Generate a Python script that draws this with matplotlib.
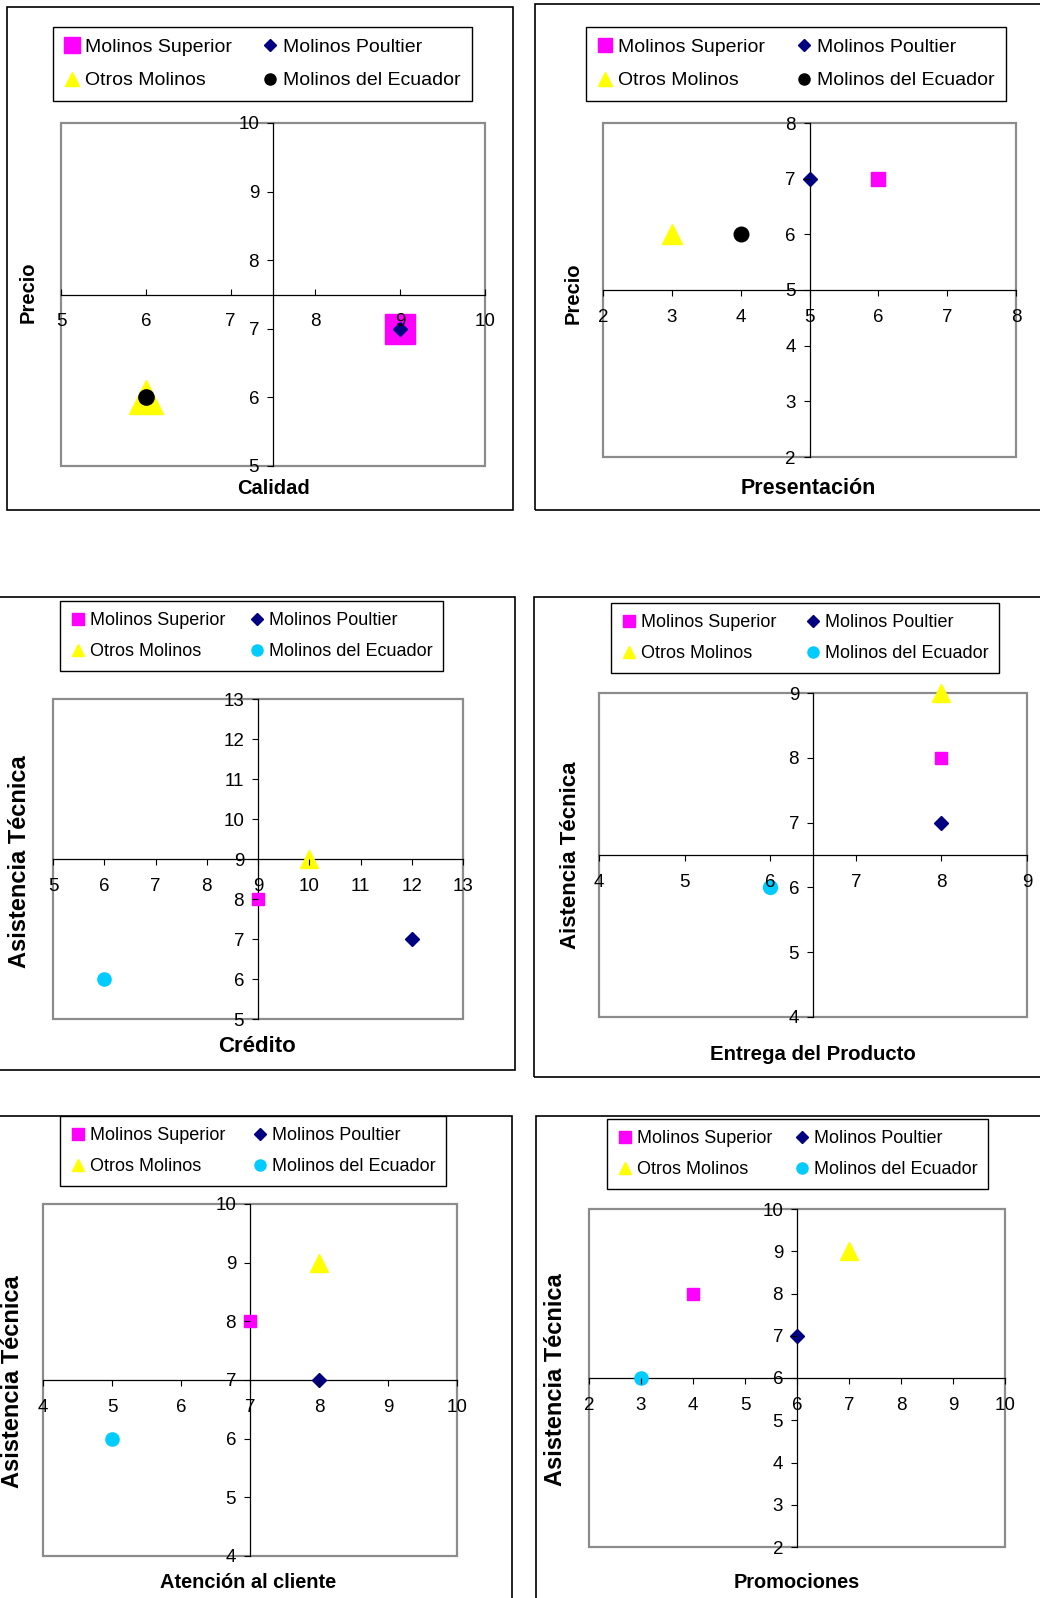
import matplotlib
matplotlib.use("Agg")
import matplotlib.pyplot as plt
from matplotlib.patches import Rectangle
from matplotlib.lines import Line2D

plt.rcParams['font.family'] = ['Liberation Sans', 'DejaVu Sans']

W, H = 1040, 1598

series = ['Molinos Superior', 'Molinos Poultier', 'Otros Molinos', 'Molinos del Ecuador']
colors = ['#FF00FF', '#000080', '#FFFF00', '#00CCFF']
markers = ['s', 'D', '^', 'o']

# values per chart, in the order of `series`
calidad = [9, 9, 6, 6]
precio_cal = [7, 7, 6, 6]
presentacion = [6, 5, 3, 4]
precio_pres = [7, 7, 6, 6]
credito = [9, 12, 10, 6]
asist_cred = [8, 7, 9, 6]
entrega = [8, 8, 8, 6]
asist_ent = [8, 7, 9, 6]
atencion = [7, 8, 8, 5]
asist_aten = [8, 7, 9, 6]
promociones = [4, 6, 7, 3]
asist_prom = [8, 7, 9, 6]

# axis ranges and crossing point of each chart
ranges = [(5, 10), (2, 8), (5, 13), (4, 9), (4, 10), (2, 10)]
crosses = [7.5, 5, 9, 6.5, 7, 6]


def frac(x0, y0, x1, y1):
    return [x0 / W, 1 - y1 / H, (x1 - x0) / W, (y1 - y0) / H]


panels = [
    dict(x=calidad, y=precio_cal, xl='Calidad', yl='Precio', ecu='black',
         frame=(7, 7, 513, 510), leg=(53, 27, 472, 102), plot=(61, 123, 485, 466),
         xlpos=(273, 489), ylpos=(28, 292), xfs=14.5, yfs=14.5, lfs=14, xdir='in',
         ms=[21, 7, 25, 11], lms=[12, 6, 9.5, 8]),
    dict(x=presentacion, y=precio_pres, xl='Presentación', yl='Precio', ecu='black',
         frame=(535, 4, 1045, 510), leg=(586, 27, 1006, 102), plot=(603, 123, 1016, 457),
         xlpos=(808, 489), ylpos=(573, 293), xfs=15.5, yfs=14.5, lfs=14, xdir='out',
         ms=[10, 7.5, 15, 10.5], lms=[9.5, 6, 9.5, 8]),
    dict(x=credito, y=asist_cred, xl='Crédito', yl='Asistencia Técnica', ecu='#00CCFF',
         frame=(-5, 597, 515, 1070), leg=(60, 601, 443, 675), plot=(53, 699, 463, 1019),
         xlpos=(257, 1047), ylpos=(20, 862), xfs=16, yfs=17, lfs=13, xdir='out',
         ms=[9, 7, 13, 9.5], lms=[9, 6, 9, 8]),
    dict(x=entrega, y=asist_ent, xl='Entrega del Producto', yl='Aistencia Técnica', ecu='#00CCFF',
         frame=(534, 597, 1045, 1077), leg=(611, 603, 999, 678), plot=(599, 693, 1027, 1017),
         xlpos=(813, 1054), ylpos=(570, 855), xfs=14.7, yfs=16, lfs=13, xdir='out',
         ms=[9, 7.5, 13.5, 10], lms=[9, 6, 9, 8]),
    dict(x=atencion, y=asist_aten, xl='Atención al cliente', yl='Asistencia Técnica', ecu='#00CCFF',
         frame=(-5, 1116, 512, 1605), leg=(60, 1116, 446, 1190), plot=(43, 1204, 457, 1556),
         xlpos=(248, 1583), ylpos=(13, 1382), xfs=14.4, yfs=17, lfs=13, xdir='out',
         ms=[9, 7, 13.5, 9.5], lms=[9, 6, 9, 8]),
    dict(x=promociones, y=asist_prom, xl='Promociones', yl='Asistencia Técnica', ecu='#00CCFF',
         frame=(536, 1116, 1045, 1605), leg=(607, 1119, 988, 1194), plot=(589, 1209, 1005, 1547),
         xlpos=(797, 1583), ylpos=(555, 1380), xfs=14.4, yfs=17, lfs=13, xdir='out',
         ms=[9, 7, 13.5, 9.5], lms=[9, 6, 9, 8]),
]

fig = plt.figure(figsize=(W / 100, H / 100), dpi=100)

for i, p in enumerate(panels):
    fx, fy, fw, fh = frac(*p['frame'])
    fig.add_artist(Rectangle((fx, fy), fw, fh, transform=fig.transFigure,
                             fill=False, ec='black', lw=1.2))

    ax = fig.add_axes(frac(*p['plot']))
    lo, hi = ranges[i]
    c = crosses[i]
    ax.set_xlim(lo, hi)
    ax.set_ylim(lo, hi)
    ax.set_xticks(range(lo, hi + 1))
    ax.set_yticks(range(lo, hi + 1))
    ax.spines['top'].set_visible(False)
    ax.spines['right'].set_visible(False)
    ax.spines['left'].set_position(('data', c))
    ax.spines['bottom'].set_position(('data', c))
    for s in ('left', 'bottom'):
        ax.spines[s].set_linewidth(0.9)
    ax.add_patch(Rectangle((0, 0), 1, 1, transform=ax.transAxes, fill=False,
                           ec='#8c8c8c', lw=1.6, clip_on=False, zorder=1))
    ax.tick_params(axis='x', direction=p['xdir'], length=4, width=0.8, labelsize=13.5,
                   pad=13.5 if p['xdir'] == 'in' else 9.5)
    ax.tick_params(axis='y', direction='out', length=4, width=0.8, labelsize=13.5, pad=6)
    ax.xaxis.set_zorder(4)
    ax.yaxis.set_zorder(4)

    cols = colors[:3] + [p['ecu']]
    handles = []
    for k in range(4):
        ax.plot(p['x'][k], p['y'][k], ls='none', marker=markers[k], color=cols[k],
                mec=cols[k], ms=p['ms'][k], clip_on=False, zorder=3)
        handles.append(Line2D([], [], ls='none', marker=markers[k], color=cols[k],
                              mec=cols[k], ms=p['lms'][k]))

    # two columns: Superior / Otros on the left, Poultier / Ecuador on the right
    order = [0, 2, 1, 3]
    leg = ax.legend([handles[k] for k in order], [series[k] for k in order], ncol=2,
                    loc='upper left', bbox_to_anchor=frac(*p['leg']),
                    bbox_transform=fig.transFigure, mode='expand', fontsize=p['lfs'],
                    frameon=True, fancybox=False, edgecolor='black', framealpha=1,
                    borderpad=0.6, labelspacing=0.8, handlelength=0.8,
                    handletextpad=0.25, borderaxespad=0)
    leg.get_frame().set_linewidth(1.0)

    fig.text(p['xlpos'][0] / W, 1 - p['xlpos'][1] / H, p['xl'], ha='center', va='center',
             fontsize=p['xfs'], fontweight='bold')
    fig.text(p['ylpos'][0] / W, 1 - p['ylpos'][1] / H, p['yl'], ha='center', va='center',
             rotation=90, fontsize=p['yfs'], fontweight='bold')

fig.savefig('out.png', dpi=100)
